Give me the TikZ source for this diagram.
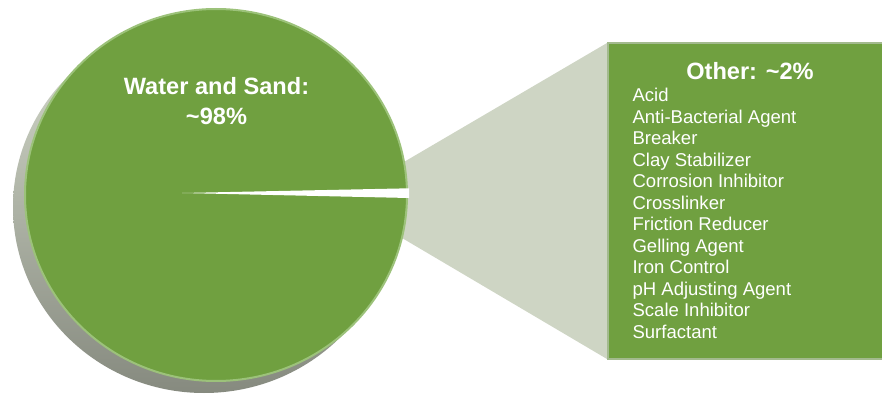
\documentclass[tikz,border=0pt]{standalone}
\usepackage{fontspec}
\setmainfont{Liberation Sans}
\usepackage{xcolor}
\definecolor{pieGreen}{RGB}{112,160,64}
\definecolor{pieEdge}{RGB}{156,194,122}
\definecolor{zoomGray}{RGB}{206,213,196}
\definecolor{shadowTop}{RGB}{214,220,205}
\definecolor{shadowBot}{RGB}{134,138,127}
\definecolor{boxEdge}{RGB}{163,186,142}

\begin{document}
\begin{tikzpicture}[x=0.75pt,y=0.75pt,yscale=-1,xscale=1,
  headtext/.style={anchor=base, inner sep=0pt, text=white, font=\fontsize{17.7}{23}\bfseries\selectfont},
  itemtext/.style={anchor=base west, inner sep=0pt, text=white, font=\fontsize{13.9}{16}\selectfont}]
\useasboundingbox (0,0) rectangle (882,399);

%Shape: Ellipse [shadow of pie]
\shade [top color=shadowTop, bottom color=shadowBot] (204,207) ellipse (191 and 186);
%Shape: Polygon [zoom wedge]
\fill [zoomGray] (380,176) -- (607,43) -- (607,359) -- (380,225) -- cycle;
%Shape: Rectangle [other box]
\draw [boxEdge, fill=pieGreen, line width=1.5] (608,43) rectangle (884,359);
%Shape: Ellipse [pie]
\draw [pieEdge, fill=pieGreen, line width=1.5] (216,195) ellipse (191 and 186);
%Shape: Triangle [gap of small slice]
\fill [white] (182,193) -- (409,188.3) -- (409,198) -- cycle;

% Text Node
\node (water) [headtext] at (216.5,94.3) {Water and Sand:};
% Text Node
\node (waterpct) [headtext] at (216.5,125) {\textasciitilde98\%};
% Text Node
\node (other) [headtext] at (750,80) {Other: \textasciitilde2\%};
% Text Node
\node (acid) [itemtext] at (632.3,101.7) {Acid};
% Text Node
\node (antibact) [itemtext] at (632.3,123.2) {Anti-Bacterial Agent};
% Text Node
\node (breaker) [itemtext] at (632.3,144.7) {Breaker};
% Text Node
\node (clay) [itemtext] at (632.3,166.2) {Clay Stabilizer};
% Text Node
\node (corrosion) [itemtext] at (632.3,187.7) {Corrosion Inhibitor};
% Text Node
\node (crosslink) [itemtext] at (632.3,209.2) {Crosslinker};
% Text Node
\node (friction) [itemtext] at (632.3,230.7) {Friction Reducer};
% Text Node
\node (gelling) [itemtext] at (632.3,252.2) {Gelling Agent};
% Text Node
\node (iron) [itemtext] at (632.3,273.7) {Iron Control};
% Text Node
\node (ph) [itemtext] at (632.3,295.2) {pH Adjusting Agent};
% Text Node
\node (scale) [itemtext] at (632.3,316.7) {Scale Inhibitor};
% Text Node
\node (surfact) [itemtext] at (632.3,338.2) {Surfactant};

\end{tikzpicture}
\end{document}
